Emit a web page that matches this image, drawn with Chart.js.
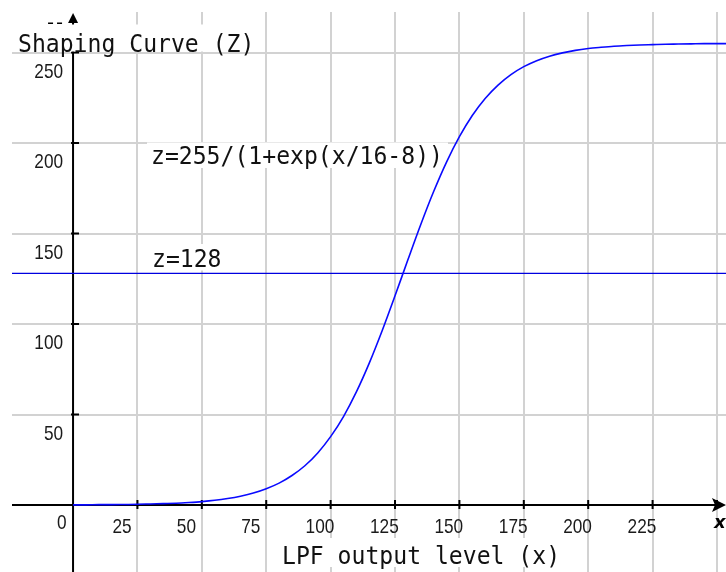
<!DOCTYPE html>
<html>
<head>
<meta charset="utf-8">
<script src="https://cdn.jsdelivr.net/npm/chart.js@4/dist/chart.umd.min.js"></script>
<style>
  html, body { margin: 0; padding: 0; background: #fff; }
  canvas { display: block; }
</style>
</head>
<body>
<canvas id="curveChart" width="726" height="572"></canvas>
<script>
// LPF output level (x) and shaped value (z)
const levels = [0, 5, 10, 15, 20, 25, 30, 35, 40, 45, 50, 55, 60, 65, 70, 75, 80, 85, 90, 95,
  100, 105, 110, 115, 120, 125, 130, 135, 140, 145, 150, 155, 160, 165, 170, 175, 180, 185, 190, 195,
  200, 205, 210, 215, 220, 225, 230, 235, 240, 245, 250, 255];
const shaped = [0.1, 0.1, 0.2, 0.2, 0.3, 0.4, 0.6, 0.8, 1.0, 1.4, 1.9, 2.6, 3.6, 4.9, 6.6, 9.0, 12.1, 16.3, 21.7, 28.8,
  37.8, 48.9, 62.5, 78.4, 96.3, 115.6, 135.5, 155.0, 173.2, 189.5, 203.5, 215.2, 224.6, 232.0, 237.8, 242.2, 245.5, 248.0, 249.8, 251.2,
  252.2, 252.9, 253.5, 253.9, 254.2, 254.4, 254.6, 254.7, 254.8, 254.9, 254.9, 254.9];
const midLevel = 128;

const xTicks = [25, 50, 75, 100, 125, 150, 175, 200, 225, 250];
const xLabels = ['25', '50', '75', '100', '125', '150', '175', '200', '225'];
const yTicks = [50, 100, 150, 200, 250];
const yLabels = ['50', '100', '150', '200', '250'];

const xMin = -23.7, xMax = 253.5;
const yMin = -37, yMax = 272.4;

const GOTHIC = '23.1px "DejaVu Sans Mono", monospace';
const NARROW = '21px "Liberation Sans", Arial, sans-serif';

// monospaced text, stretched a little taller
function gothicText(ctx, text, x, y) {
  ctx.save();
  ctx.translate(x, y);
  ctx.scale(1, 1.1);
  ctx.font = GOTHIC;
  ctx.fillStyle = '#111';
  ctx.textAlign = 'left';
  ctx.textBaseline = 'alphabetic';
  ctx.fillText(text, 0, 0);
  ctx.restore();
}

// tick numbers, squeezed horizontally
function narrowText(ctx, text, x, y, align) {
  ctx.save();
  ctx.translate(x, y);
  ctx.scale(0.82, 1);
  ctx.font = NARROW;
  ctx.fillStyle = '#1a1a1a';
  ctx.textAlign = align;
  ctx.textBaseline = 'alphabetic';
  ctx.fillText(text, 0, 0);
  ctx.restore();
}

function whiteBox(ctx, x1, y1, x2, y2) {
  ctx.fillStyle = '#fff';
  ctx.fillRect(x1, y1, x2 - x1, y2 - y1);
}

const axesPlugin = {
  id: 'axesPlugin',
  beforeDatasetsDraw(chart) {
    const ctx = chart.ctx;
    const xs = chart.scales.x, ys = chart.scales.y;
    const area = chart.chartArea;
    const x0 = xs.getPixelForValue(0);
    const y0 = ys.getPixelForValue(0);

    ctx.save();
    ctx.strokeStyle = '#000';
    ctx.fillStyle = '#000';
    ctx.lineWidth = 2;

    // axis lines
    ctx.beginPath();
    ctx.moveTo(area.left, y0);
    ctx.lineTo(area.right - 4, y0);
    ctx.moveTo(x0, area.bottom);
    ctx.lineTo(x0, area.top + 8);
    ctx.stroke();

    // tick marks
    ctx.beginPath();
    xTicks.forEach(v => {
      const px = xs.getPixelForValue(v);
      ctx.moveTo(px, y0 - 5);
      ctx.lineTo(px, y0 + 4);
    });
    yTicks.forEach(v => {
      const py = ys.getPixelForValue(v);
      ctx.moveTo(x0 - 2, py);
      ctx.lineTo(x0 + 6, py);
    });
    ctx.stroke();

    // arrow heads
    ctx.beginPath();
    ctx.moveTo(area.right, y0);
    ctx.lineTo(area.right - 14, y0 - 7);
    ctx.lineTo(area.right - 11, y0);
    ctx.lineTo(area.right - 14, y0 + 7);
    ctx.closePath();
    ctx.fill();
    ctx.beginPath();
    ctx.moveTo(x0, area.top + 1);
    ctx.lineTo(x0 - 5, area.top + 11);
    ctx.lineTo(x0 + 5, area.top + 11);
    ctx.closePath();
    ctx.fill();

    // x axis letter; only the foot of the z letter peeks out above the title
    ctx.font = 'bold italic 18px "DejaVu Sans", sans-serif';
    ctx.textBaseline = 'alphabetic';
    ctx.textAlign = 'left';
    ctx.fillText('x', area.right - 12, y0 + 23);
    ctx.fillRect(x0 - 25, area.top + 10.5, 5, 1.5);
    ctx.fillRect(x0 - 16, area.top + 10.5, 5, 1.5);

    // backgrounds behind the captions
    whiteBox(ctx, area.left, 24.5, 252, 51.5);
    whiteBox(ctx, 147, 142.5, 448, 168);
    whiteBox(ctx, 148, 244, 226, 270.5);
    whiteBox(ctx, 278, 538, 562, 567);
    ctx.restore();
  },
  afterDatasetsDraw(chart) {
    const ctx = chart.ctx;
    const xs = chart.scales.x, ys = chart.scales.y;
    const x0 = xs.getPixelForValue(0);
    const y0 = ys.getPixelForValue(0);

    xLabels.forEach((t, i) => {
      const px = xs.getPixelForValue(xTicks[i]);
      narrowText(ctx, t, px - 25, y0 + 28, 'left');
    });
    yLabels.forEach((t, i) => {
      const py = ys.getPixelForValue(yTicks[i]);
      narrowText(ctx, t, x0 - 10, py + 25, 'right');
    });
    narrowText(ctx, '0', x0 - 6.5, y0 + 23.5, 'right');

    gothicText(ctx, 'Shaping Curve (Z)', 18, 52);
    gothicText(ctx, 'z=255/(1+exp(x/16-8))', 151, 163.5);
    gothicText(ctx, 'z=128', 152, 266.5);
    gothicText(ctx, 'LPF output level (x)', 282, 563.5);
  }
};

new Chart(document.getElementById('curveChart'), {
  type: 'line',
  data: {
    datasets: [
      {
        label: 'z',
        data: levels.map((x, i) => ({ x: x, y: shaped[i] })),
        borderColor: '#0a0aff',
        borderWidth: 1.6,
        pointRadius: 0,
        cubicInterpolationMode: 'monotone'
      },
      {
        label: 'z=128',
        data: [{ x: xMin, y: midLevel }, { x: xMax, y: midLevel }],
        borderColor: '#0000e0',
        borderWidth: 1.4,
        pointRadius: 0
      }
    ]
  },
  options: {
    responsive: false,
    animation: false,
    layout: { padding: { left: 12, top: 12, right: 0, bottom: 0 } },
    plugins: { legend: { display: false }, tooltip: { enabled: false } },
    scales: {
      x: {
        type: 'linear',
        min: xMin,
        max: xMax,
        afterBuildTicks: s => { s.ticks = xTicks.map(v => ({ value: v })); },
        ticks: { display: false },
        grid: { color: '#d2d2d2', lineWidth: 2, drawTicks: false },
        border: { display: false }
      },
      y: {
        type: 'linear',
        min: yMin,
        max: yMax,
        afterBuildTicks: s => { s.ticks = yTicks.map(v => ({ value: v })); },
        ticks: { display: false },
        grid: { color: '#d2d2d2', lineWidth: 2, drawTicks: false },
        border: { display: false }
      }
    }
  },
  plugins: [axesPlugin]
});
</script>
</body>
</html>
